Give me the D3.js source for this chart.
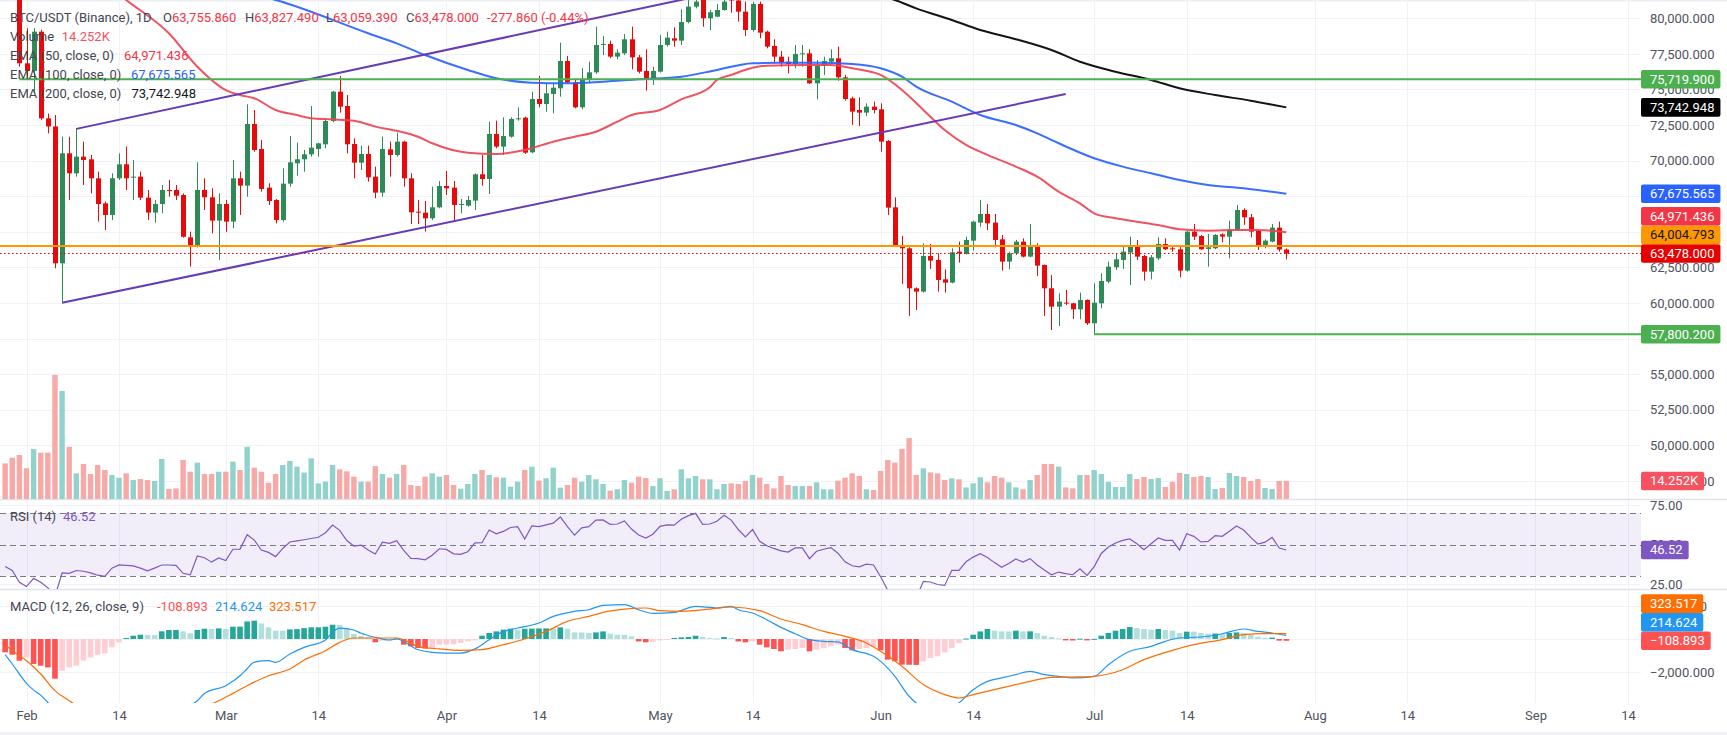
<!DOCTYPE html>
<html>
<head>
<meta charset="utf-8">
<script src="https://cdn.jsdelivr.net/npm/d3@7"></script>
<style>
html,body{margin:0;padding:0;background:#fff;}
svg{display:block;font-family:Roboto,"Noto Sans",sans-serif;}
</style>
</head>
<body>
<svg id="chart" width="1727" height="735"></svg>
<script>
// daily bars, first one on 2026-01-29 (day -3 from Feb 1)
const firstDay = -3;
const opens = [
  82600,82100,81600,76840,76300,79060,72970,72400,62787,70514,
  69109,70280,70093,68758,67002,66182,68758,69741,68828,68875,
  67400,66346,66955,67938,67938,67587,64613,63957,67938,67423,
  65784,66955,65713,68758,68243,72575,70819,68102,67236,65831,
  68383,69812,70093,70444,70819,71147,72785,74846,73839,71170,
  69858,70467,68875,67751,70796,70397,71334,68758,66416,66346,
  65948,66721,68219,68102,66885,66838,67189,69039,68711,71872,
  70983,71685,72926,73020,70584,74331,73980,74682,75081,77001,
  75502,73745,75713,76204,78125,78195,77305,77539,78523,77258,
  76298,75713,76251,78125,78593,78429,79740,80818,81500,79998,
  80115,80583,81900,81250,80466,79178,81005,79061,78054,77305,
  76954,76790,77493,77539,75432,76650,76954,77188,75853,74378,
  73558,73371,73792,73605,71381,66721,64028,63840,61030,60796,
  63302,63021,61663,61429,63606,63443,64379,65643,66252,65643,
  64472,62904,63489,64309,63255,64004,62670,61030,59742,60023,
  59976,59555,60211,58572,59976,61499,62506,63021,63536,64004,
  63302,62201,63138,64145,63840,63770,62272,65011,64707,63794,
  63840,64824,64660,65128,66533,66018,65081,63957,64309,65292,
  63755.86];
const highs = [
  83400,82900,82000,79300,79300,79200,73300,73210,71685,71685,
  72270,71334,70397,69226,67119,69109,70514,70983,70046,69226,
  67938,67236,68289,68641,68289,67700,65011,69882,68758,68055,
  67704,67236,70046,69226,73956,73558,71451,68406,67300,69461,
  71732,71264,70748,73839,71264,72973,74900,75947,74612,71568,
  71053,71053,69578,71685,71334,71966,71400,69109,67236,67166,
  68173,68570,69273,68570,67306,67517,69109,70397,72739,72809,
  73043,73043,73745,73090,74846,75947,75432,75432,78289,77352,
  75666,76486,76954,79412,78757,78429,77820,78898,79412,77422,
  77820,76603,78827,79061,79366,80630,81400,81800,82100,80583,
  81005,81400,82300,81700,81169,81169,81169,79132,78523,77703,
  77305,78125,78125,77820,77071,77305,77820,78008,76017,74495,
  74448,74027,74144,74027,71450,67423,64707,63911,61100,64192,
  64145,63489,62365,63840,64309,64660,65784,67236,66955,66252,
  64777,63606,64426,64543,65549,64192,62700,61968,60679,60913,
  60000,60726,60250,61382,62084,62904,63489,63957,64660,64426,
  63372,63372,64613,64543,64074,63957,65050,65549,64777,64847,
  64847,64894,65784,66885,66650,66252,65128,64472,65549,65713,
  63827.49];
const lows = [
  81700,81300,76600,75660,74730,72860,71919,62436,60020,67236,
  68875,68289,67704,65713,65128,65831,68641,67938,67236,67236,
  65831,65643,66299,67470,67236,64589,62553,63900,66533,64894,
  63021,65011,65245,66182,67470,70631,67821,66885,65596,65713,
  68173,68945,69226,70280,70280,70866,72700,73371,70514,68758,
  69343,68524,67353,67470,68875,70280,68173,65549,65549,65011,
  65831,66650,67587,65713,66299,66767,66533,68243,67657,70866,
  70397,71615,72809,70467,70514,73745,73441,73324,74495,75385,
  73675,73605,75432,76087,77422,77188,77118,77422,76415,76134,
  74917,75315,76181,78008,78008,78125,79647,80701,79412,79178,
  80068,80537,80396,79764,78757,79061,78593,77890,76837,76603,
  76134,76486,76603,75385,74307,76017,76837,75619,74214,72505,
  72434,73137,73324,70631,66182,63957,61335,59087,59508,60726,
  62389,60796,60726,61382,62834,63400,63677,65362,65128,63911,
  62272,62365,63372,63200,63200,61897,59087,58103,58384,59859,
  58876,58853,58455,57800,59626,61382,62318,62389,61265,63021,
  61569,61663,63021,63723,63606,61803,62200,64426,63723,62553,
  63770,64262,63138,65081,65479,64613,63723,63840,64262,63606,
  63059.39];
const closes = [
  82100,81600,76840,76300,79060,72970,72400,62787,70514,69109,
  70280,70046,68758,66955,66182,68758,69741,68758,68875,67400,
  66346,66955,67938,67892,67540,64650,63957,67938,67423,65784,
  66955,65713,68758,68243,72575,70748,68009,67166,65831,68383,
  69882,70093,70444,70913,71217,72785,74846,73792,71147,69858,
  70467,68828,67751,70819,70397,71334,68758,66369,66346,65948,
  66721,68219,68055,66885,66955,67236,69039,68711,71872,70983,
  71732,72926,72973,70561,74331,73980,74729,75127,77001,75502,
  73745,75713,76204,78125,78195,77305,77586,78523,77258,76251,
  75713,76298,78125,78640,78429,79740,80818,81169,79998,80420,
  80583,81169,81250,80466,79178,81005,78991,78008,77305,76884,
  76790,77493,77539,75432,76650,77001,77188,75853,74331,73441,
  73371,73792,73558,71334,66697,64004,63840,61030,60796,63302,
  62974,61616,61429,63560,63489,64426,65713,66252,65596,64426,
  62904,63489,64309,63255,64004,62623,61030,59742,60094,59976,
  59555,60211,58572,60023,61546,62553,63068,63606,64004,63255,
  62201,63208,64145,63770,63770,62272,65011,64660,63770,63911,
  64777,64660,65175,66533,66018,65011,63957,64379,65292,63755.86,
  63478];
// volume in thousands of BTC
const volumes = [
  28.2,32.7,34.8,24.3,39.6,36.7,36.7,98.2,85.5,41.4,
  20.3,27.7,19.8,26.9,23.0,19.0,16.9,20.3,15.0,15.8,
  15.0,14.3,31.7,7.9,8.4,30.9,21.6,28.8,19.8,19.8,
  21.6,21.6,29.6,23.0,41.4,24.8,21.6,12.9,19.8,26.9,
  30.1,25.6,20.9,32.2,12.4,13.7,26.9,23.5,21.9,17.7,
  13.7,13.7,26.1,19.8,16.9,19.8,26.9,11.1,10.3,17.7,
  20.3,17.7,19.0,11.1,8.2,11.9,19.8,23.0,19.0,17.2,
  16.9,9.8,13.7,23.0,25.6,14.5,16.4,24.8,9.0,11.1,
  16.9,13.7,19.0,15.6,11.9,6.6,7.7,15.0,12.9,17.7,
  16.6,10.3,16.4,6.4,7.7,23.5,16.4,18.2,15.6,15.6,
  7.7,11.9,12.4,11.9,14.3,19.0,16.9,11.9,8.4,18.2,
  11.1,10.3,10.3,10.3,13.2,7.7,7.7,14.5,16.9,20.3,
  18.2,7.7,7.1,22.2,30.9,28.8,39.6,48.3,19.0,24.3,
  21.1,20.3,15.0,16.4,15.6,9.2,12.4,17.2,13.2,18.2,
  16.9,13.2,9.2,7.7,15.0,19.0,27.7,27.7,25.6,9.2,
  8.4,19.0,19.0,23.0,19.8,13.5,9.5,9.5,19.8,15.8,
  17.4,15.8,16.6,9.5,13.5,20.6,19.8,17.4,18.2,17.4,
  7.9,8.7,20.6,18.2,17.4,14.25,15.8,8.7,7.9,14.25,
  14.252];
const rsiValues = [
  36,33.5,26,23.3,28.5,26,22.5,17,32,31.7,
  33.5,33,32,30.5,29.8,35,37,36.8,36.4,35,
  33.3,35,37,37,36.7,31.7,30.7,42.7,41.6,38.8,
  41.5,39.8,47,47.1,56.2,52.8,46.5,45,42.3,47.5,
  51.6,52.3,53,53.8,54.6,57.5,62.4,59,52.5,49,
  49.6,46.5,44,51.5,50.7,52.4,46.3,41.2,41,40.3,
  43.2,47.3,46.9,44.1,43.7,45.4,51,51.1,59.2,56.8,
  58.3,60.8,61.3,53.5,61.8,61.3,62.5,63.6,67.5,61.3,
  56,60.6,61.3,65.5,65.6,62.8,63,65,59.8,56,
  54.1,56.5,61.5,62.5,62.3,66,68.3,69.8,62.8,63,
  64.8,68.6,65.5,59.5,54.8,59.5,52,49.2,47.5,46,
  45.2,47.8,47.8,41,45.7,47,48,44.5,39,36.5,
  35.8,37.5,37,29.5,21,16,17,14,16,26.6,
  26.2,24.6,24,33.6,33.6,39,42,44.2,41.8,38.5,
  35.5,38,40.8,38.8,41,37,33.8,30.8,32.5,31.5,
  30.8,34.6,30.4,36,44.3,48.4,51,52.6,53.5,50.5,
  46.7,50.5,54.1,52.6,52.6,46.5,56.8,55.2,51.6,52,
  55.6,55.2,58.4,61.8,59.2,54.5,50.3,51.5,54.5,47.8,
  46.52];
const macdHist = [
  -810,-950,-1315,-1100,-1515,-1620,-1720,-2405,-1920,-1720,
  -1620,-1315,-1115,-950,-870,-510,-205,60,200,260,
  250,240,465,545,550,465,345,545,625,605,
  645,605,745,750,1065,1110,945,705,505,500,
  580,600,660,705,710,745,865,860,605,300,
  200,100,-200,-100,-95,40,-345,-445,-545,-585,
  -545,-345,-340,-330,-240,-145,-85,200,365,460,
  565,625,565,625,630,640,645,630,705,625,
  400,395,365,400,460,320,260,255,160,-145,
  -200,-170,-85,-40,60,100,120,200,120,60,
  40,120,60,-145,-200,-145,-345,-505,-605,-745,
  -645,-605,-545,-745,-645,-545,-445,-345,-545,-685,
  -605,-545,-485,-685,-1250,-1350,-1555,-1560,-1570,-1350,
  -1150,-1050,-810,-545,-240,30,260,460,605,505,
  460,455,505,460,465,365,200,120,40,-85,
  -90,20,-85,10,200,365,505,605,725,665,
  605,565,605,545,505,365,445,445,365,320,
  330,300,365,400,365,260,140,80,85,-100,
  -108.893];

// indicator lines, [day from Feb 1, value]
const ema50 = [[6,84500],[14,81290],[20,78950],[24,76600],[28,74960],[30,74610],[32,74380],[35,73560],[38,73200],[40,72980],[43,72900],[46,72800],[49,72390],[52,72100],[55,71680],[57,71220],[62,70560],[66,70470],[70,70750],[74,71330],[77,71680],[80,72030],[83,72740],[85,73210],[89,73560],[92,74310],[96,75150],[97,75670],[99,76020],[102,76530],[104,76670],[109,76720],[113,76720],[116,76490],[120,76020],[123,74960],[126,73560],[129,72150],[132,71100],[135,70400],[139,69580],[142,68870],[145,67820],[148,67000],[150,66300],[153,65950],[156,65710],[159,65480],[162,65180],[166,65080],[170,65130],[173,65130],[177,64971.436]];
const ema100 = [[28,82100],[35,81290],[48,78950],[52,78240],[56,77420],[62,76370],[66,75790],[71,75480],[76,75430],[81,75550],[86,75720],[92,75900],[97,76370],[102,76840],[106,76880],[111,76880],[116,76790],[120,76490],[123,75900],[125,75200],[130,74140],[134,73210],[139,72500],[142,71920],[145,71220],[150,70170],[154,69580],[158,69110],[162,68640],[166,68290],[171,68060],[177,67675.565]];
const ema200 = [[115,81900],[122,81290],[125,80700],[130,79880],[134,79180],[139,78530],[144,77770],[148,76950],[153,76250],[158,75670],[162,75080],[167,74610],[172,74210],[177,73742.948]];
const macdLine = [[-3,-950],[-2,-1515],[0,-2690],[1,-3100],[2,-3400],[3,-3850],[4,-4300],[6,-4900],[10,-5300],[14,-5200],[18,-4700],[21,-4300],[24,-3740],[25,-3300],[28,-2830],[30,-2225],[31,-1800],[32,-1400],[34,-1315],[35,-1415],[37,-910],[39,-505],[42,-60],[43,405],[44,665],[46,545],[47,345],[49,100],[51,-60],[52,0],[55,-650],[57,-810],[59,-850],[61,-850],[63,-600],[65,-40],[67,460],[69,665],[72,970],[74,1370],[77,1675],[79,1775],[81,2040],[84,2080],[86,1775],[88,1550],[91,1615],[94,1980],[97,1880],[99,1980],[100,1775],[102,1575],[104,1170],[106,705],[108,320],[110,-40],[112,-140],[114,-180],[116,-645],[119,-1050],[120,-1355],[122,-2260],[124,-3470],[125,-3880],[127,-4400],[129,-4400],[131,-3880],[133,-3070],[135,-2565],[137,-2360],[139,-2160],[141,-1960],[143,-2160],[145,-2260],[147,-2360],[150,-2260],[152,-1555],[155,-745],[158,-445],[160,-140],[162,60],[165,120],[168,320],[171,605],[173,460],[175,365],[177,214.624]];
const signalLine = [[-3,-350],[-2,-710],[0,-1315],[2,-2120],[4,-3130],[6,-3740],[8,-4300],[14,-5000],[20,-4700],[27,-3740],[29,-3295],[31,-2830],[34,-2225],[37,-1820],[39,-1275],[42,-710],[44,-205],[46,60],[48,60],[50,60],[52,60],[55,-445],[58,-600],[61,-685],[64,-645],[67,-345],[70,0],[73,460],[76,1070],[79,1370],[81,1615],[84,1815],[87,1880],[89,1720],[92,1675],[96,1815],[99,1940],[103,1715],[106,1210],[109,870],[112,460],[115,160],[118,-240],[120,-745],[123,-1655],[126,-2765],[129,-3370],[131,-3575],[133,-3370],[137,-2965],[141,-2565],[144,-2320],[148,-2300],[150,-2260],[154,-1860],[157,-1250],[161,-685],[164,-345],[168,-40],[171,260],[174,320],[177,323.517]];

// drawings
const channelUpper = [[7,72230],[100,82150]];
const channelLower = [[5,60020],[146,74680]];
const levels = [
  {from:-1, value:75719.9, color:'#4caf50'},
  {from:150, value:57800.2, color:'#4caf50'},
  {from:-5, value:64004.793, color:'#ff9800'}
];
const lastPrice = 63478;

// axis ticks (labels that sit fully under a value badge are left out, as on the original)
const priceTicks = d3.range(47500, 80001, 2500);
const priceTickLabels = [47500, 50000, 52500, 55000, 60000, 62500, 70000, 72500, 75000, 77500, 80000];
const rsiTicks = [75, 50, 25];
const macdTicks = [2000, 0, -2000];
const macdTickLabels = [2000, -2000];

// ---------------------------------------------------------------
const svg = d3.select('#chart');
const PR = 1641;            // right edge of the panes
const UP = '#2e8b57', DN = '#e80a0a';
const GRID = '#f0f2f6';
const TXT = '#434651';

const base = new Date(Date.UTC(2026, 1, 1));
const dayAt = d => d3.utcDay.offset(base, d);

const x = d3.scaleUtc().domain([base, new Date(Date.UTC(2026, 8, 14))]).range([26.5, 1628]);
const y = d3.scaleLinear().domain([80000, 50000]).range([18.3, 445.3]);
const yVol = d3.scaleLinear().domain([0, 100]).range([499, 372.7]);
const yRsi = d3.scaleLinear().domain([70, 30]).range([513, 576]);
const yMacd = d3.scaleLinear().domain([2000, -2000]).range([606, 672]);

const bars = opens.map((o, i) => ({
  date: dayAt(i + firstDay), o, h: highs[i], l: lows[i], c: closes[i],
  v: volumes[i], rsi: rsiValues[i], hist: macdHist[i], prevHist: i ? macdHist[i-1] : 0
}));

const defs = svg.append('defs');
function clip(id, top, h){
  defs.append('clipPath').attr('id', id).append('rect')
    .attr('x', 0).attr('y', top).attr('width', PR).attr('height', h);
}
clip('cp', 0, 499); clip('cr', 500, 89); clip('cm', 590, 113);

// frame strips
svg.append('rect').attr('x',0).attr('y',0).attr('width',1727).attr('height',1.5).attr('fill','#eceef3');
svg.append('rect').attr('x',0).attr('y',732).attr('width',1727).attr('height',3).attr('fill','#eef0f4');

// grid
const months = d3.utcMonth.range(base, new Date(Date.UTC(2026, 8, 2)));
const timeTicks = months.flatMap(m => [m, d3.utcDay.offset(m, 13)]);
const grid = svg.append('g').attr('stroke', GRID).attr('stroke-width', 1);
grid.selectAll('line.v').data(timeTicks).join('line')
  .attr('x1', d => Math.round(x(d)) + 0.5).attr('x2', d => Math.round(x(d)) + 0.5)
  .attr('y1', 0).attr('y2', 703);
grid.selectAll('line.p').data(priceTicks).join('line')
  .attr('x1', 0).attr('x2', PR).attr('y1', d => Math.round(y(d)) + 0.5).attr('y2', d => Math.round(y(d)) + 0.5);
grid.selectAll('line.r').data([75, 25]).join('line')
  .attr('x1', 0).attr('x2', PR).attr('y1', d => Math.round(yRsi(d)) + 0.5).attr('y2', d => Math.round(yRsi(d)) + 0.5);
grid.selectAll('line.m').data(macdTicks).join('line')
  .attr('x1', 0).attr('x2', PR).attr('y1', d => Math.round(yMacd(d)) + 0.5).attr('y2', d => Math.round(yMacd(d)) + 0.5);

// pane separators
svg.append('g').attr('stroke', '#e0e3eb').attr('stroke-width', 1.5)
  .selectAll('line').data([499.5, 589.5]).join('line')
  .attr('x1', 0).attr('x2', 1727).attr('y1', d => d).attr('y2', d => d);

// ---- price pane
const pane = svg.append('g').attr('clip-path', 'url(#cp)');

pane.append('g').selectAll('rect').data(bars).join('rect')
  .attr('x', b => x(b.date) - 2.7).attr('width', 5.4)
  .attr('y', b => yVol(b.v)).attr('height', b => yVol(0) - yVol(b.v))
  .attr('fill', b => b.c >= b.o ? '#92d2cc' : '#f7a9a7');

const cg = pane.append('g');
cg.selectAll('line').data(bars).join('line')
  .attr('x1', b => Math.round(x(b.date)) + 0.5).attr('x2', b => Math.round(x(b.date)) + 0.5)
  .attr('y1', b => y(b.h)).attr('y2', b => y(b.l))
  .attr('stroke', b => b.c >= b.o ? UP : DN).attr('stroke-width', 1);
cg.selectAll('rect').data(bars).join('rect')
  .attr('x', b => Math.round(x(b.date)) - 2).attr('width', 5)
  .attr('y', b => y(Math.max(b.o, b.c)))
  .attr('height', b => Math.max(1, Math.abs(y(b.o) - y(b.c))))
  .attr('fill', b => b.c >= b.o ? UP : DN);

const pline = d3.line().x(p => x(dayAt(p[0]))).y(p => y(p[1])).curve(d3.curveMonotoneX);
[[ema200, '#000000'], [ema100, '#2962ff'], [ema50, '#ef4452']].forEach(([pts, col]) => {
  pane.append('path').attr('d', pline(pts)).attr('fill', 'none')
    .attr('stroke', col).attr('stroke-width', 2).attr('stroke-opacity', 0.92);
});

const straight = d3.line().x(p => x(dayAt(p[0]))).y(p => y(p[1]));
[channelUpper, channelLower].forEach(pts => {
  pane.append('path').attr('d', straight(pts)).attr('fill', 'none')
    .attr('stroke', '#673ab7').attr('stroke-width', 2);
});

levels.forEach(l => {
  pane.append('line').attr('x1', x(dayAt(l.from))).attr('x2', PR)
    .attr('y1', y(l.value)).attr('y2', y(l.value))
    .attr('stroke', l.color).attr('stroke-width', 2);
});
pane.append('line').attr('x1', 0).attr('x2', PR)
  .attr('y1', Math.round(y(lastPrice)) + 0.5).attr('y2', Math.round(y(lastPrice)) + 0.5)
  .attr('stroke', '#e60000').attr('stroke-width', 1).attr('stroke-dasharray', '1.5,2.5');

// ---- RSI pane
const rp = svg.append('g').attr('clip-path', 'url(#cr)');
rp.append('rect').attr('x', 0).attr('width', PR)
  .attr('y', yRsi(70)).attr('height', yRsi(30) - yRsi(70)).attr('fill', 'rgba(126,87,194,0.1)');
rp.selectAll('line').data([70, 50, 30]).join('line')
  .attr('x1', 0).attr('x2', PR).attr('y1', d => Math.round(yRsi(d)) + 0.5).attr('y2', d => Math.round(yRsi(d)) + 0.5)
  .attr('stroke', '#787b86').attr('stroke-dasharray', '6,4');
rp.append('path')
  .attr('d', d3.line().x(b => x(b.date)).y(b => yRsi(b.rsi))(bars))
  .attr('fill', 'none').attr('stroke', '#7e57c2').attr('stroke-width', 1.2);

// ---- MACD pane
const mp = svg.append('g').attr('clip-path', 'url(#cm)');
mp.selectAll('rect').data(bars).join('rect')
  .attr('x', b => x(b.date) - 2.8).attr('width', 5.6)
  .attr('y', b => Math.min(yMacd(0), yMacd(b.hist)))
  .attr('height', b => Math.max(1, Math.abs(yMacd(b.hist) - yMacd(0))))
  .attr('fill', b => b.hist >= 0 ? (b.hist > b.prevHist ? '#26a69a' : '#b2dfdb')
                                 : (b.hist > b.prevHist ? '#ffcdd2' : '#ff5252'));
const mline = d3.line().x(p => x(dayAt(p[0]))).y(p => yMacd(p[1])).curve(d3.curveMonotoneX);
mp.append('path').attr('d', mline(macdLine)).attr('fill', 'none').attr('stroke', '#2196f3').attr('stroke-width', 1.2);
mp.append('path').attr('d', mline(signalLine)).attr('fill', 'none').attr('stroke', '#ff6d00').attr('stroke-width', 1.2);

// ---- axes
function styleAxis(g){
  g.select('.domain').remove();
  g.selectAll('text').attr('fill', '#50535e').style('font-size', '13px').style('font-family', 'Roboto');
}
svg.append('g').attr('transform', 'translate(0,711)')
  .call(d3.axisBottom(x).tickValues(timeTicks).tickSize(0).tickPadding(0)
    .tickFormat(d => d.getUTCDate() === 1 ? d3.utcFormat('%b')(d) : '14'))
  .call(styleAxis);
svg.append('g').attr('transform', `translate(${PR},0)`)
  .call(d3.axisRight(y).tickValues(priceTickLabels).tickSize(0).tickPadding(9).tickFormat(d3.format(',.3f')))
  .call(styleAxis);
svg.append('g').attr('transform', `translate(${PR},0)`)
  .call(d3.axisRight(yRsi).tickValues(rsiTicks).tickSize(0).tickPadding(9).tickFormat(d3.format('.2f')))
  .call(styleAxis);
svg.append('g').attr('transform', `translate(${PR},0)`)
  .call(d3.axisRight(yMacd).tickValues(macdTickLabels).tickSize(0).tickPadding(9).tickFormat(d3.format(',.3f')))
  .call(styleAxis);

// ---- axis badges
const BH = 18.6;
function stack(items){
  items.sort((a, b) => b.y - a.y);
  for (let i = 1; i < items.length; i++) {
    if (items[i].y > items[i-1].y - BH) items[i].y = items[i-1].y - BH;
  }
  return items;
}
function drawBadges(items){
  items.forEach(it => {
    const g = svg.append('g');
    const r = g.append('rect').attr('x', PR).attr('y', it.y - BH/2).attr('height', BH).attr('rx', 2).attr('fill', it.fill);
    const t = g.append('text').attr('x', PR + 9).attr('y', it.y).attr('dominant-baseline', 'central')
      .attr('fill', it.color || '#fff').style('font-size', '13px').text(it.label);
    r.attr('width', t.node().getComputedTextLength() + 15);
  });
}
const fmt3 = d3.format(',.3f');
drawBadges(stack([
  {y: y(75719.9), label: fmt3(75719.9), fill: '#4caf50'},
  {y: y(73742.948), label: fmt3(73742.948), fill: '#000000'},
  {y: y(67675.565), label: fmt3(67675.565), fill: '#2962ff'},
  {y: y(64971.436), label: fmt3(64971.436), fill: '#f23645'},
  {y: y(64004.793), label: fmt3(64004.793), fill: '#ff9800', color: '#131722'},
  {y: y(lastPrice), label: fmt3(lastPrice), fill: '#e60000'},
  {y: y(57800.2), label: fmt3(57800.2), fill: '#4caf50'}
]));
const lastBar = bars[bars.length - 1];
drawBadges([{y: yVol(lastBar.v), label: d3.format('.3f')(lastBar.v) + 'K', fill: '#f7525f'}]);
drawBadges([{y: yRsi(lastBar.rsi), label: d3.format('.2f')(lastBar.rsi), fill: '#7e57c2'}]);
const lastMacd = macdLine[macdLine.length - 1][1], lastSignal = signalLine[signalLine.length - 1][1];
drawBadges(stack([
  {y: yMacd(lastSignal), label: d3.format('.3f')(lastSignal), fill: '#ff6d00'},
  {y: yMacd(lastMacd), label: d3.format('.3f')(lastMacd), fill: '#2196f3'},
  {y: yMacd(lastBar.hist), label: d3.format('.3f')(lastBar.hist), fill: '#ff5252'}
]));

// ---- legends
const legend = svg.append('g').style('font-size', '13px');
function lab(px, py, txt, fill){
  legend.append('text').attr('x', px).attr('y', py).attr('dominant-baseline', 'central')
    .attr('fill', fill).text(txt);
}
const RED = '#f23645';
function ohlc(px, letter, val){
  const t = legend.append('text').attr('x', px).attr('y', 17).attr('dominant-baseline', 'central');
  t.append('tspan').attr('fill', TXT).text(letter);
  t.append('tspan').attr('fill', RED).text(val);
}
lab(10, 17, 'BTC/USDT (Binance), 1D', TXT);
ohlc(163, 'O', fmt3(lastBar.o));
ohlc(245, 'H', fmt3(lastBar.h));
ohlc(326, 'L', fmt3(lastBar.l));
ohlc(406, 'C', fmt3(lastBar.c));
lab(487, 17, '-277.860 (-0.44%)', RED);
lab(10, 36.7, 'Volume', TXT);   lab(61.7, 36.7, d3.format('.3f')(lastBar.v) + 'K', '#f7525f');
lab(10, 55, 'EMA (50, close, 0)', TXT);   lab(124, 55, fmt3(64971.436), RED);
lab(10, 74, 'EMA (100, close, 0)', TXT);  lab(131, 74, fmt3(67675.565), '#2962ff');
lab(10, 93.3, 'EMA (200, close, 0)', TXT); lab(131.5, 93.3, fmt3(73742.948), '#131722');
lab(10, 516.7, 'RSI (14)', TXT); lab(63, 516.7, '46.52', '#7e57c2');
lab(10, 606.7, 'MACD (12, 26, close, 9)', TXT);
lab(157, 606.7, '-108.893', '#ff5252');
lab(215, 606.7, '214.624', '#2196f3');
lab(269, 606.7, '323.517', '#ff6d00');
</script>
</body>
</html>
